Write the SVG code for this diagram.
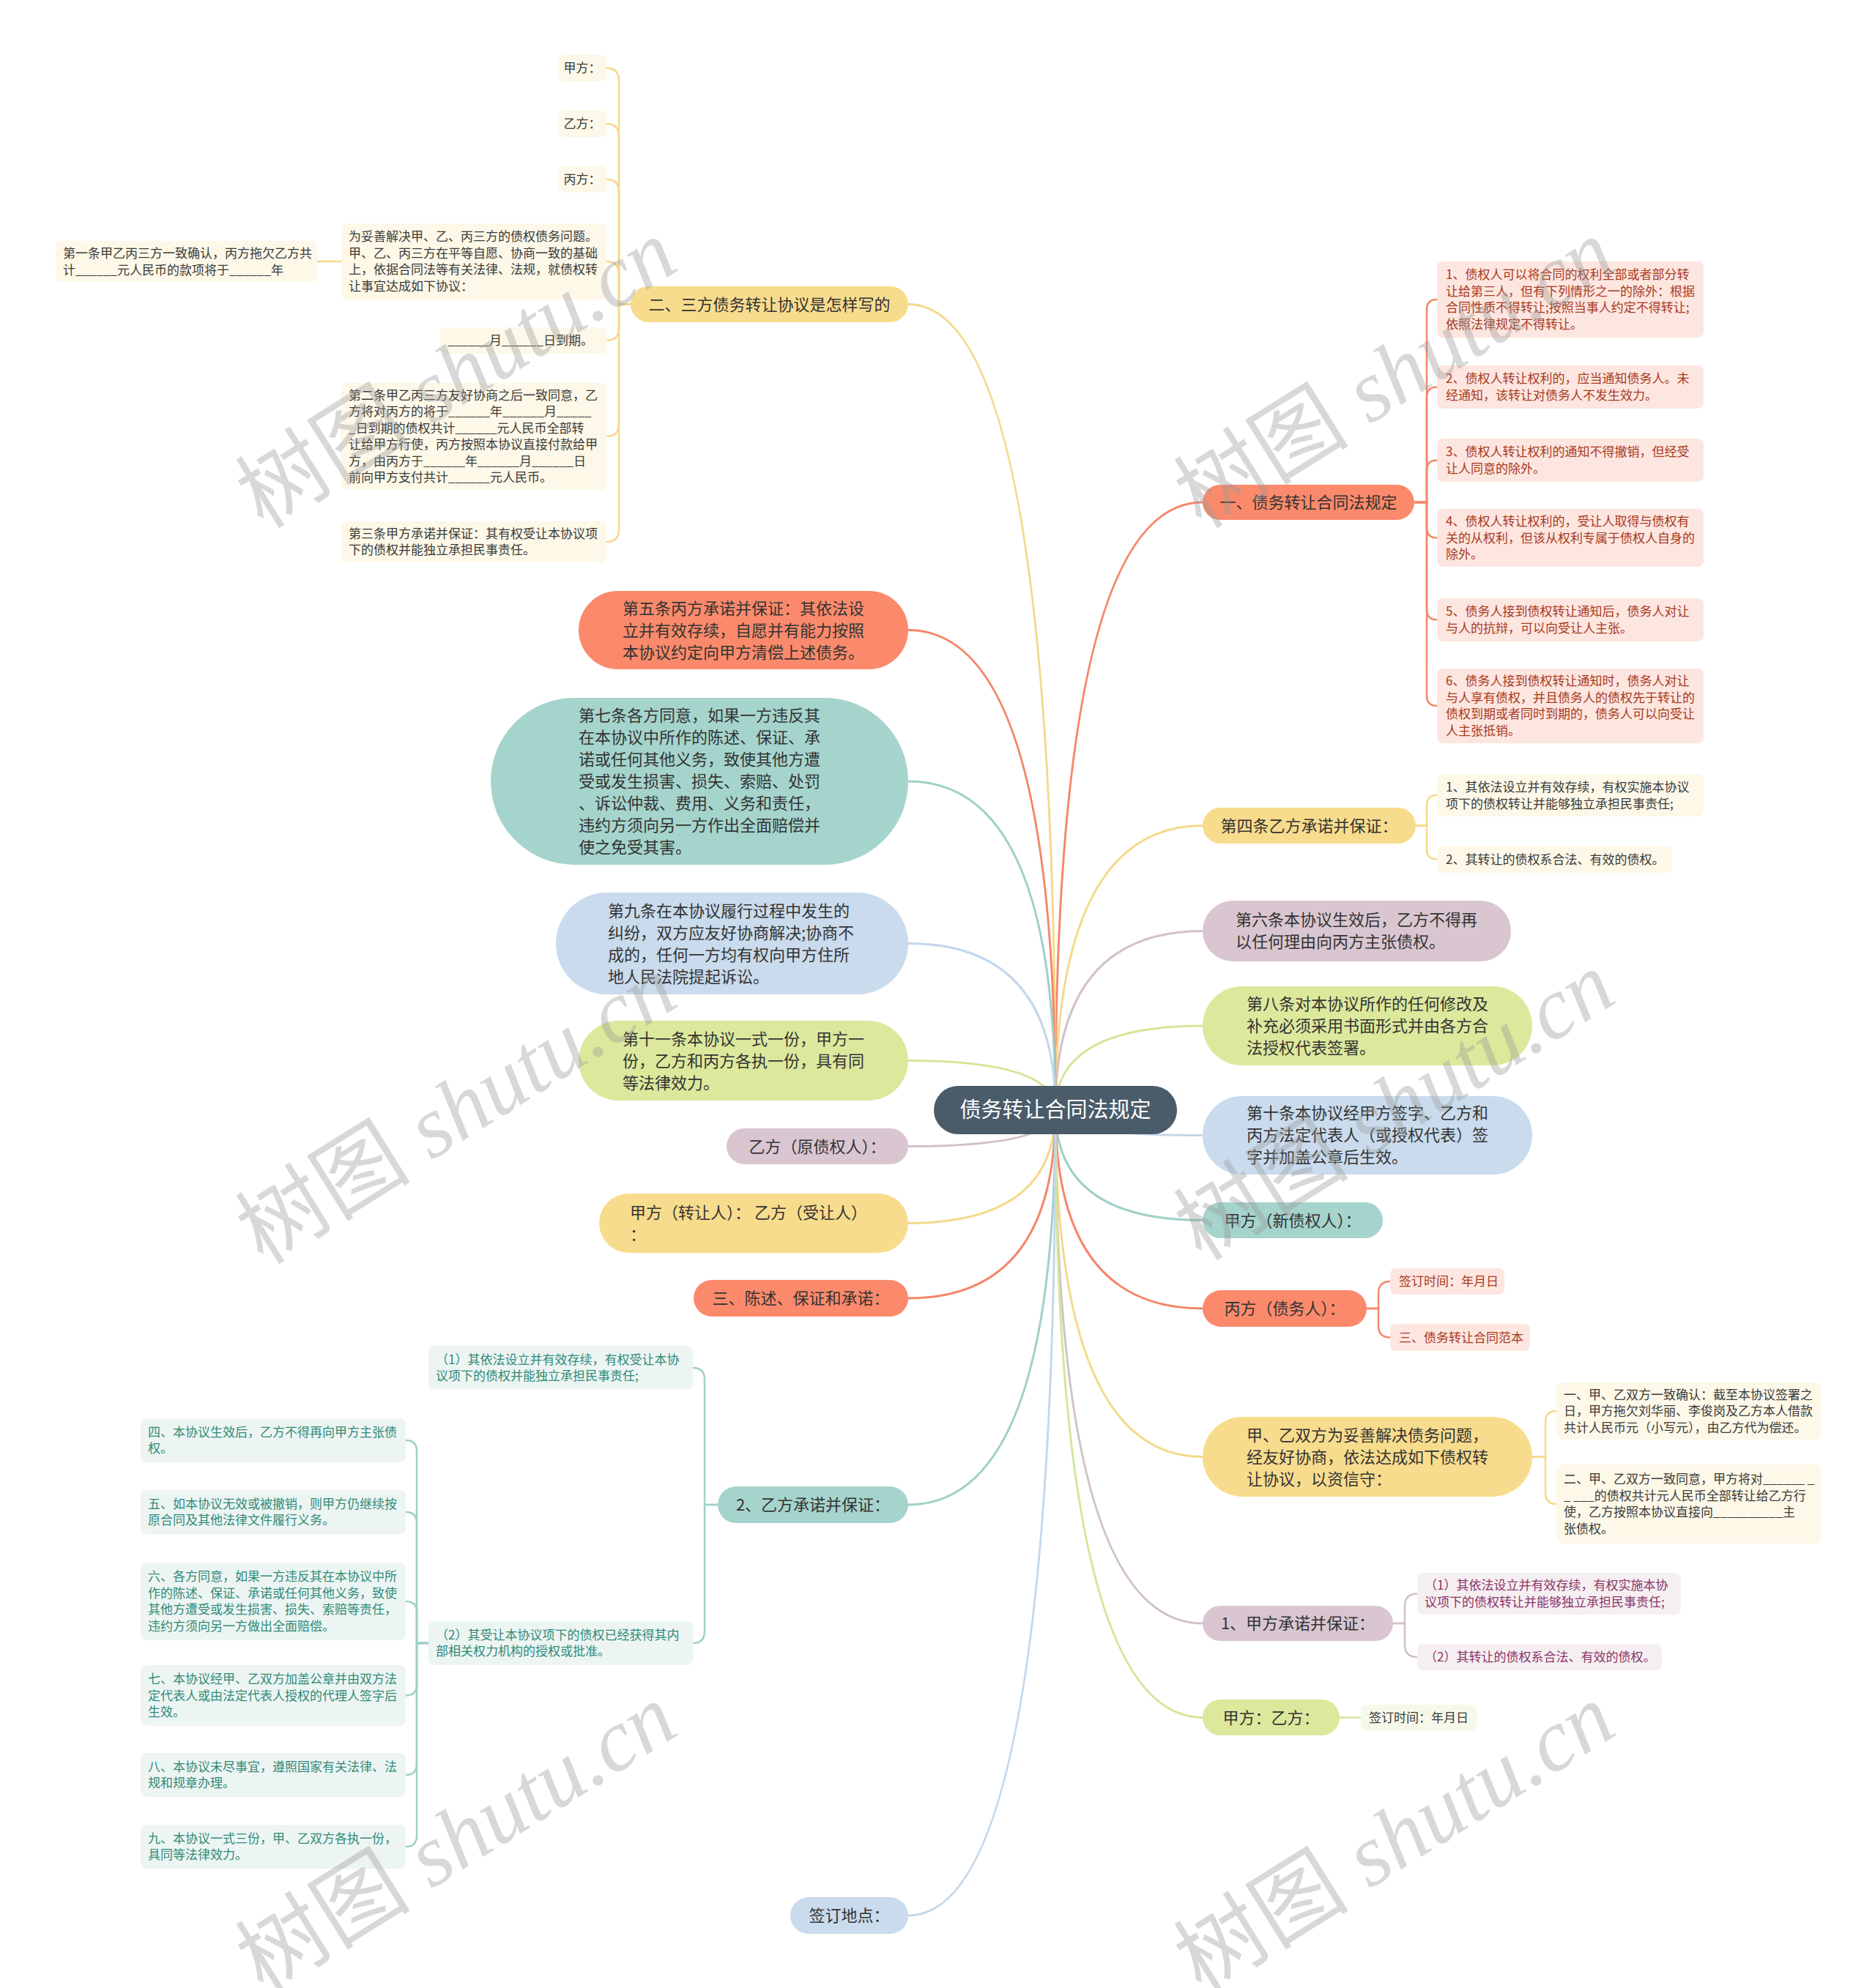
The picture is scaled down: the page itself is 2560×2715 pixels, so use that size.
<svg xmlns="http://www.w3.org/2000/svg" width="2560" height="2715" viewBox="0 0 2560 2715">
<style>
text{font-family:"Noto Sans CJK SC","Noto Sans",sans-serif}
.t0{font-size:29px;fill:#ffffff}
.t1{font-size:22px;fill:#333333}
.t2{font-size:17px;fill:#3a3a3a}
.m{text-anchor:middle}
.c{fill:none;stroke-width:3}
.s{fill:none;stroke-width:2.5}
.or{fill:#fa8a6b}.ye{fill:#f8dc8d}.te{fill:#a5d4cc}.bl{fill:#c9dbec}.gr{fill:#dce89c}.ma{fill:#d9c6d0}
.sor{stroke:#f4876a}.sye{stroke:#f5d98a}.ste{stroke:#9fd0c8}.sbl{stroke:#c4d7ea}.sgr{stroke:#d5e598}.sma{stroke:#d3c0cb}
.por{fill:#fde6df}.pye{fill:#fdf8e7}.pma{fill:#f6eff2}.pgr{fill:#f6f9ea}.pte{fill:#edf5f3}
.xor{fill:#a8391f}.xma{fill:#8a3668}.xte{fill:#2f8a78}
.wm{font-family:"Liberation Serif","Noto Sans CJK SC",serif;font-size:120px;fill:#9a9a9a;opacity:0.38;text-anchor:middle}
</style>
<rect width="2560" height="2715" fill="#ffffff"/>
<g id="connectors">
<path class="c sor" d="M1441,1516 Q1441,686 1642,686"/>
<path class="c sye" d="M1441,1516 Q1441,1127.5 1642,1127.5"/>
<path class="c sma" d="M1441,1516 Q1441,1271.5 1642,1271.5"/>
<path class="c sgr" d="M1441,1516 Q1441,1401 1642,1401"/>
<path class="c sbl" d="M1441,1516 Q1441,1550.5 1642,1550.5"/>
<path class="c ste" d="M1441,1516 Q1441,1666.5 1642,1666.5"/>
<path class="c sor" d="M1441,1516 Q1441,1787 1642,1787"/>
<path class="c sye" d="M1441,1516 Q1441,1989.5 1642,1989.5"/>
<path class="c sma" d="M1441,1516 Q1441,2217 1642,2217"/>
<path class="c sgr" d="M1441,1516 Q1441,2345.5 1642,2345.5"/>
<path class="c sye" d="M1441,1516 Q1441,415.5 1240,415.5"/>
<path class="c sor" d="M1441,1516 Q1441,860.5 1240,860.5"/>
<path class="c ste" d="M1441,1516 Q1441,1067 1240,1067"/>
<path class="c sbl" d="M1441,1516 Q1441,1288.5 1240,1288.5"/>
<path class="c sgr" d="M1441,1516 Q1441,1448.5 1240,1448.5"/>
<path class="c sma" d="M1441,1516 Q1441,1565.5 1240,1565.5"/>
<path class="c sye" d="M1441,1516 Q1441,1670.5 1240,1670.5"/>
<path class="c sor" d="M1441,1516 Q1441,1773 1240,1773"/>
<path class="c ste" d="M1441,1516 Q1441,2055 1240,2055"/>
<path class="c sbl" d="M1441,1516 Q1441,2616 1240,2616"/>
<!-- R1 children -->
<path class="s sor" d="M1931,686 H1948 V423 Q1948,409 1962,409"/>
<path class="s sor" d="M1931,686 H1948 V542.5 Q1948,528.5 1962,528.5"/>
<path class="s sor" d="M1931,686 H1948 V642.5 Q1948,628.5 1962,628.5"/>
<path class="s sor" d="M1931,686 H1948 V720.5 Q1948,734.5 1962,734.5"/>
<path class="s sor" d="M1931,686 H1948 V832.5 Q1948,846.5 1962,846.5"/>
<path class="s sor" d="M1931,686 H1948 V950 Q1948,964 1962,964"/>
<!-- R2 children -->
<path class="s sye" d="M1933,1127.5 H1948 V1100 Q1948,1086 1962,1086"/>
<path class="s sye" d="M1933,1127.5 H1948 V1159.5 Q1948,1173.5 1962,1173.5"/>
<!-- R7 children -->
<path class="s sor" d="M1866,1787 H1882 V1766 Q1882,1750 1898,1750"/>
<path class="s sor" d="M1866,1787 H1882 V1810.5 Q1882,1826.5 1898,1826.5"/>
<!-- R8 children -->
<path class="s sye" d="M2092,1989.5 H2110 V1942 Q2110,1927 2125,1927"/>
<path class="s sye" d="M2092,1989.5 H2110 V2039 Q2110,2054 2125,2054"/>
<!-- R9 children -->
<path class="s sma" d="M1902,2217 H1918 V2193.5 Q1918,2176.5 1935,2176.5"/>
<path class="s sma" d="M1902,2217 H1918 V2246 Q1918,2263 1935,2263"/>
<!-- R10 child -->
<path class="s sgr" d="M1829,2345.5 H1858"/>
<!-- L1 children -->
<path class="s sye" d="M861,415.5 H845 V110 Q845,93 828,93"/>
<path class="s sye" d="M861,415.5 H845 V186 Q845,169 828,169"/>
<path class="s sye" d="M861,415.5 H845 V262 Q845,245 828,245"/>
<path class="s sye" d="M861,415.5 H845 V374 Q845,357 828,357"/>
<path class="s sye" d="M861,415.5 H845 V448 Q845,465 828,465"/>
<path class="s sye" d="M861,415.5 H845 V579 Q845,596 828,596"/>
<path class="s sye" d="M861,415.5 H845 V723 Q845,740 828,740"/>
<path class="s sye" d="M466,357 H433"/>
<!-- L9 children -->
<path class="s ste" d="M980,2055 H962 V1884 Q962,1868 946,1868"/>
<path class="s ste" d="M980,2055 H962 V2228 Q962,2244 946,2244"/>
<!-- (2) children -->
<path class="s ste" d="M585,2244 H569 V1982 Q569,1967 554,1967"/>
<path class="s ste" d="M585,2244 H569 V2080 Q569,2065 554,2065"/>
<path class="s ste" d="M585,2244 H569 V2202 Q569,2187 554,2187"/>
<path class="s ste" d="M585,2244 H569 V2300.5 Q569,2315.5 554,2315.5"/>
<path class="s ste" d="M585,2244 H569 V2409 Q569,2424 554,2424"/>
<path class="s ste" d="M585,2244 H569 V2507 Q569,2522 554,2522"/>
</g>

<g id="center">
<rect x="1275" y="1483" width="332" height="66" rx="33" fill="#4a5b6a"/>
<text class="t0 m" x="1441" y="1526">债务转让合同法规定</text>
</g>

<!-- Right level-1 -->
<g id="r1">
<rect class="or" x="1642" y="662" width="289" height="48" rx="24"/>
<text class="t1 m" x="1786.5" y="694">一、债务转让合同法规定</text>
</g>
<g id="r1c1"><rect class="por" x="1962" y="357" width="364" height="104" rx="8"/>
<text class="t2 xor"><tspan x="1974" y="381">1、债权人可以将合同的权利全部或者部分转</tspan><tspan x="1974" y="404">让给第三人，但有下列情形之一的除外：根据</tspan><tspan x="1974" y="426">合同性质不得转让;按照当事人约定不得转让;</tspan><tspan x="1974" y="449">依照法律规定不得转让。</tspan></text></g>
<g id="r1c2"><rect class="por" x="1962" y="499" width="364" height="59" rx="8"/>
<text class="t2 xor"><tspan x="1974" y="523">2、债权人转让权利的，应当通知债务人。未</tspan><tspan x="1974" y="546">经通知，该转让对债务人不发生效力。</tspan></text></g>
<g id="r1c3"><rect class="por" x="1962" y="599" width="364" height="59" rx="8"/>
<text class="t2 xor"><tspan x="1974" y="623">3、债权人转让权利的通知不得撤销，但经受</tspan><tspan x="1974" y="646">让人同意的除外。</tspan></text></g>
<g id="r1c4"><rect class="por" x="1962" y="695" width="364" height="79" rx="8"/>
<text class="t2 xor"><tspan x="1974" y="718">4、债权人转让权利的，受让人取得与债权有</tspan><tspan x="1974" y="740.5">关的从权利，但该从权利专属于债权人自身的</tspan><tspan x="1974" y="763">除外。</tspan></text></g>
<g id="r1c5"><rect class="por" x="1962" y="817" width="364" height="59" rx="8"/>
<text class="t2 xor"><tspan x="1974" y="841">5、债务人接到债权转让通知后，债务人对让</tspan><tspan x="1974" y="864">与人的抗辩，可以向受让人主张。</tspan></text></g>
<g id="r1c6"><rect class="por" x="1962" y="913" width="364" height="102" rx="8"/>
<text class="t2 xor"><tspan x="1974" y="936">6、债务人接到债权转让通知时，债务人对让</tspan><tspan x="1974" y="959">与人享有债权，并且债务人的债权先于转让的</tspan><tspan x="1974" y="981">债权到期或者同时到期的，债务人可以向受让</tspan><tspan x="1974" y="1004">人主张抵销。</tspan></text></g>

<g id="r2">
<rect class="ye" x="1642" y="1103" width="291" height="49" rx="24.5"/>
<text class="t1 m" x="1787.5" y="1135.5">第四条乙方承诺并保证：</text>
</g>
<g id="r2c1"><rect class="pye" x="1962" y="1057" width="364" height="58" rx="8"/>
<text class="t2"><tspan x="1974" y="1081">1、其依法设立并有效存续，有权实施本协议</tspan><tspan x="1974" y="1103.5">项下的债权转让并能够独立承担民事责任;</tspan></text></g>
<g id="r2c2"><rect class="pye" x="1962" y="1155" width="321" height="37" rx="8"/>
<text class="t2" x="1974" y="1179.5">2、其转让的债权系合法、有效的债权。</text></g>

<g id="r3">
<rect class="ma" x="1642" y="1230" width="421" height="83" rx="41.5"/>
<text class="t1"><tspan x="1687" y="1264">第六条本协议生效后，乙方不得再</tspan><tspan x="1687" y="1294">以任何理由向丙方主张债权。</tspan></text>
</g>
<g id="r4">
<rect class="gr" x="1642" y="1347" width="450" height="108" rx="54"/>
<text class="t1"><tspan x="1702" y="1379">第八条对本协议所作的任何修改及</tspan><tspan x="1702" y="1409">补充必须采用书面形式并由各方合</tspan><tspan x="1702" y="1439">法授权代表签署。</tspan></text>
</g>
<g id="r5">
<rect class="bl" x="1642" y="1497" width="450" height="107" rx="53.5"/>
<text class="t1"><tspan x="1702" y="1528">第十条本协议经甲方签字、乙方和</tspan><tspan x="1702" y="1558">丙方法定代表人（或授权代表）签</tspan><tspan x="1702" y="1588">字并加盖公章后生效。</tspan></text>
</g>
<g id="r6">
<rect class="te" x="1642" y="1642" width="246" height="49" rx="24.5"/>
<text class="t1 m" x="1765" y="1674.5">甲方（新债权人）：</text>
</g>
<g id="r7">
<rect class="or" x="1642" y="1762" width="224" height="50" rx="25"/>
<text class="t1 m" x="1754" y="1795">丙方（债务人）：</text>
</g>
<g id="r7c1"><rect class="por" x="1898" y="1732" width="156" height="36" rx="8"/>
<text class="t2 xor" x="1910" y="1756">签订时间：年月日</text></g>
<g id="r7c2"><rect class="por" x="1898" y="1808" width="191" height="37" rx="8"/>
<text class="t2 xor" x="1910" y="1832.5">三、债务转让合同范本</text></g>

<g id="r8">
<rect class="ye" x="1642" y="1935" width="450" height="109" rx="54.5"/>
<text class="t1"><tspan x="1702" y="1967.5">甲、乙双方为妥善解决债务问题，</tspan><tspan x="1702" y="1997.5">经友好协商，依法达成如下债权转</tspan><tspan x="1702" y="2027.5">让协议，以资信守：</tspan></text>
</g>
<g id="r8c1"><rect class="pye" x="2125" y="1888" width="361" height="78" rx="8"/>
<text class="t2"><tspan x="2135" y="1910.5">一、甲、乙双方一致确认：截至本协议签署之</tspan><tspan x="2135" y="1933">日，甲方拖欠刘华丽、李俊岗及乙方本人借款</tspan><tspan x="2135" y="1955.5">共计人民币元（小写元），由乙方代为偿还。</tspan></text></g>
<g id="r8c2"><rect class="pye" x="2125" y="2000" width="361" height="108" rx="8"/>
<text class="t2"><tspan x="2135" y="2026">二、甲、乙双方一致同意，甲方将对______ _</tspan><tspan x="2135" y="2049">_ ___的债权共计元人民币全部转让给乙方行</tspan><tspan x="2135" y="2071">使，乙方按照本协议直接向__________主</tspan><tspan x="2135" y="2094">张债权。</tspan></text></g>

<g id="r9">
<rect class="ma" x="1642" y="2193" width="260" height="48" rx="24"/>
<text class="t1 m" x="1772" y="2225">1、甲方承诺并保证：</text>
</g>
<g id="r9c1"><rect class="pma" x="1935" y="2148" width="360" height="57" rx="8"/>
<text class="t2 xma"><tspan x="1945" y="2171">（1）其依法设立并有效存续，有权实施本协</tspan><tspan x="1945" y="2193.5">议项下的债权转让并能够独立承担民事责任;</tspan></text></g>
<g id="r9c2"><rect class="pma" x="1935" y="2245" width="334" height="36" rx="8"/>
<text class="t2 xma" x="1945" y="2269">（2）其转让的债权系合法、有效的债权。</text></g>

<g id="r10">
<rect class="gr" x="1642" y="2321" width="187" height="49" rx="24.5"/>
<text class="t1 m" x="1735.5" y="2353.5">甲方：乙方：</text>
</g>
<g id="r10c1"><rect class="pgr" x="1858" y="2328" width="158" height="36" rx="8"/>
<text class="t2" x="1869" y="2352">签订时间：年月日</text></g>

<!-- Left level-1 -->
<g id="l1">
<rect class="ye" x="861" y="391" width="379" height="49" rx="24.5"/>
<text class="t1 m" x="1050.5" y="423.5">二、三方债务转让协议是怎样写的</text>
</g>
<g id="l1c1"><rect class="pye" x="762" y="75" width="66" height="36" rx="8"/>
<text class="t2 m" x="795" y="99">甲方：</text></g>
<g id="l1c2"><rect class="pye" x="762" y="151" width="66" height="36" rx="8"/>
<text class="t2 m" x="795" y="175">乙方：</text></g>
<g id="l1c3"><rect class="pye" x="762" y="227" width="66" height="36" rx="8"/>
<text class="t2 m" x="795" y="251">丙方：</text></g>
<g id="l1c4"><rect class="pye" x="466" y="305" width="362" height="104" rx="8"/>
<text class="t2"><tspan x="476" y="329">为妥善解决甲、乙、丙三方的债权债务问题。</tspan><tspan x="476" y="352">甲、乙、丙三方在平等自愿、协商一致的基础</tspan><tspan x="476" y="374">上，依据合同法等有关法律、法规，就债权转</tspan><tspan x="476" y="397">让事宜达成如下协议：</tspan></text></g>
<g id="l1c4a"><rect class="pye" x="76" y="329" width="357" height="56" rx="8"/>
<text class="t2"><tspan x="86" y="352">第一条甲乙丙三方一致确认，丙方拖欠乙方共</tspan><tspan x="86" y="374.5">计______元人民币的款项将于______年</tspan></text></g>
<g id="l1c5"><rect class="pye" x="601" y="447" width="227" height="36" rx="8"/>
<text class="t2" x="611" y="471">______月______日到期。</text></g>
<g id="l1c6"><rect class="pye" x="466" y="523" width="362" height="146" rx="8"/>
<text class="t2"><tspan x="476" y="546">第二条甲乙丙三方友好协商之后一致同意，乙</tspan><tspan x="476" y="568">方将对丙方的将于______年______月_____</tspan><tspan x="476" y="591">_日到期的债权共计______元人民币全部转</tspan><tspan x="476" y="613">让给甲方行使，丙方按照本协议直接付款给甲</tspan><tspan x="476" y="636">方，由丙方于______年______月______日</tspan><tspan x="476" y="658">前向甲方支付共计______元人民币。</tspan></text></g>
<g id="l1c7"><rect class="pye" x="466" y="712" width="362" height="56" rx="8"/>
<text class="t2"><tspan x="476" y="735">第三条甲方承诺并保证：其有权受让本协议项</tspan><tspan x="476" y="757">下的债权并能独立承担民事责任。</tspan></text></g>

<g id="l2">
<rect class="or" x="790" y="807" width="450" height="107" rx="53.5"/>
<text class="t1"><tspan x="850" y="838.5">第五条丙方承诺并保证：其依法设</tspan><tspan x="850" y="868.5">立并有效存续，自愿并有能力按照</tspan><tspan x="850" y="898.5">本协议约定向甲方清偿上述债务。</tspan></text>
</g>
<g id="l3">
<rect class="te" x="670" y="953" width="570" height="228" rx="114"/>
<text class="t1"><tspan x="790" y="985">第七条各方同意，如果一方违反其</tspan><tspan x="790" y="1015">在本协议中所作的陈述、保证、承</tspan><tspan x="790" y="1045">诺或任何其他义务，致使其他方遭</tspan><tspan x="790" y="1075">受或发生损害、损失、索赔、处罚</tspan><tspan x="790" y="1105">、诉讼仲裁、费用、义务和责任，</tspan><tspan x="790" y="1135">违约方须向另一方作出全面赔偿并</tspan><tspan x="790" y="1165">使之免受其害。</tspan></text>
</g>
<g id="l4">
<rect class="bl" x="759" y="1219" width="481" height="139" rx="69.5"/>
<text class="t1"><tspan x="830" y="1251.5">第九条在本协议履行过程中发生的</tspan><tspan x="830" y="1281.5">纠纷，双方应友好协商解决;协商不</tspan><tspan x="830" y="1311.5">成的，任何一方均有权向甲方住所</tspan><tspan x="830" y="1341.5">地人民法院提起诉讼。</tspan></text>
</g>
<g id="l5">
<rect class="gr" x="790" y="1394" width="450" height="109" rx="54.5"/>
<text class="t1"><tspan x="850" y="1426.5">第十一条本协议一式一份，甲方一</tspan><tspan x="850" y="1456.5">份，乙方和丙方各执一份，具有同</tspan><tspan x="850" y="1486.5">等法律效力。</tspan></text>
</g>
<g id="l6">
<rect class="ma" x="992" y="1541" width="248" height="49" rx="24.5"/>
<text class="t1 m" x="1116" y="1573.5">乙方（原债权人）：</text>
</g>
<g id="l7">
<rect class="ye" x="818" y="1630" width="422" height="81" rx="40.5"/>
<text class="t1"><tspan x="860" y="1663.5">甲方（转让人）： 乙方（受让人）</tspan><tspan x="860" y="1693.5">：</tspan></text>
</g>
<g id="l8">
<rect class="or" x="947" y="1748" width="293" height="50" rx="25"/>
<text class="t1 m" x="1093.5" y="1781">三、陈述、保证和承诺：</text>
</g>
<g id="l9">
<rect class="te" x="980" y="2030" width="260" height="50" rx="25"/>
<text class="t1 m" x="1110" y="2063">2、乙方承诺并保证：</text>
</g>
<g id="l9c1"><rect class="pte" x="585" y="1838" width="361" height="60" rx="8"/>
<text class="t2 xte"><tspan x="595" y="1862.5">（1）其依法设立并有效存续，有权受让本协</tspan><tspan x="595" y="1885">议项下的债权并能独立承担民事责任;</tspan></text></g>
<g id="l9c2"><rect class="pte" x="585" y="2214" width="361" height="60" rx="8"/>
<text class="t2 xte"><tspan x="595" y="2238.5">（2）其受让本协议项下的债权已经获得其内</tspan><tspan x="595" y="2261">部相关权力机构的授权或批准。</tspan></text></g>
<g id="l9c2a"><rect class="pte" x="192" y="1937" width="362" height="60" rx="8"/>
<text class="t2 xte"><tspan x="202" y="1961.5">四、本协议生效后，乙方不得再向甲方主张债</tspan><tspan x="202" y="1984">权。</tspan></text></g>
<g id="l9c2b"><rect class="pte" x="192" y="2035" width="362" height="60" rx="8"/>
<text class="t2 xte"><tspan x="202" y="2059.5">五、如本协议无效或被撤销，则甲方仍继续按</tspan><tspan x="202" y="2082">原合同及其他法律文件履行义务。</tspan></text></g>
<g id="l9c2c"><rect class="pte" x="192" y="2134" width="362" height="106" rx="8"/>
<text class="t2 xte"><tspan x="202" y="2159">六、各方同意，如果一方违反其在本协议中所</tspan><tspan x="202" y="2182">作的陈述、保证、承诺或任何其他义务，致使</tspan><tspan x="202" y="2204">其他方遭受或发生损害、损失、索赔等责任，</tspan><tspan x="202" y="2227">违约方须向另一方做出全面赔偿。</tspan></text></g>
<g id="l9c2d"><rect class="pte" x="192" y="2274" width="362" height="83" rx="8"/>
<text class="t2 xte"><tspan x="202" y="2299">七、本协议经甲、乙双方加盖公章并由双方法</tspan><tspan x="202" y="2321.5">定代表人或由法定代表人授权的代理人签字后</tspan><tspan x="202" y="2344">生效。</tspan></text></g>
<g id="l9c2e"><rect class="pte" x="192" y="2394" width="362" height="60" rx="8"/>
<text class="t2 xte"><tspan x="202" y="2418.5">八、本协议未尽事宜，遵照国家有关法律、法</tspan><tspan x="202" y="2441">规和规章办理。</tspan></text></g>
<g id="l9c2f"><rect class="pte" x="192" y="2492" width="362" height="60" rx="8"/>
<text class="t2 xte"><tspan x="202" y="2516.5">九、本协议一式三份，甲、乙双方各执一份，</tspan><tspan x="202" y="2539">具同等法律效力。</tspan></text></g>
<g id="l10">
<rect class="bl" x="1079" y="2591" width="161" height="50" rx="25"/>
<text class="t1 m" x="1159.5" y="2624">签订地点：</text>
</g>

<g id="watermarks">
<text class="wm" transform="translate(645,545) rotate(-32)">树图 <tspan font-style="italic">shutu.cn</tspan></text>
<text class="wm" transform="translate(1926,545) rotate(-32)">树图 <tspan font-style="italic">shutu.cn</tspan></text>
<text class="wm" transform="translate(645,1550) rotate(-32)">树图 <tspan font-style="italic">shutu.cn</tspan></text>
<text class="wm" transform="translate(1926,1545) rotate(-32)">树图 <tspan font-style="italic">shutu.cn</tspan></text>
<text class="wm" transform="translate(645,2545) rotate(-32)">树图 <tspan font-style="italic">shutu.cn</tspan></text>
<text class="wm" transform="translate(1926,2545) rotate(-32)">树图 <tspan font-style="italic">shutu.cn</tspan></text>
</g>
</svg>
